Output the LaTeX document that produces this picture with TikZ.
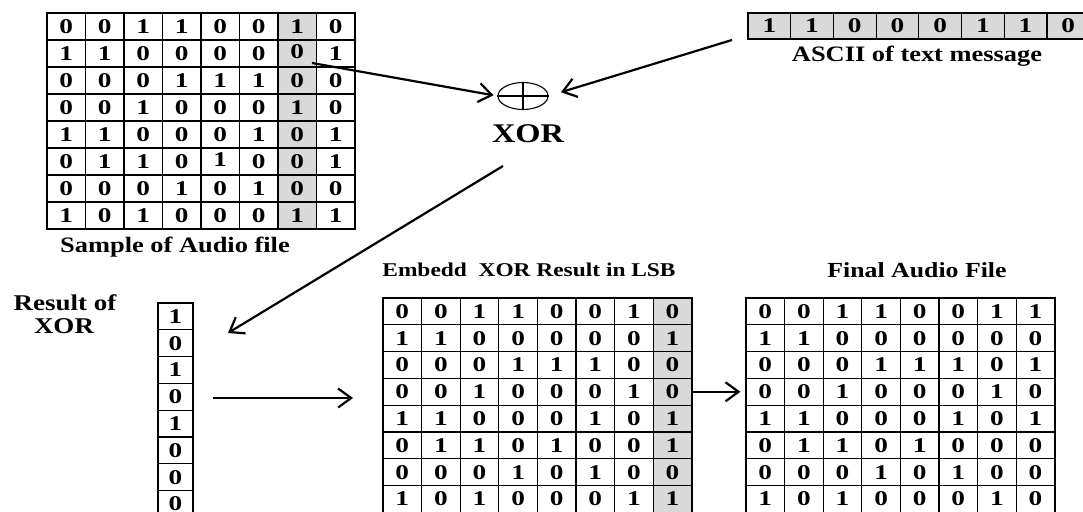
\documentclass[tikz,border=0pt]{standalone}
\usepackage{fontspec}
\newfontfamily\digf{Liberation Serif}[FakeStretch=1.3]
\newfontfamily\labf{Liberation Serif}[FakeStretch=1.2]
\usetikzlibrary{arrows.meta,shapes.geometric}
\definecolor{lsbgray}{RGB}{217,217,217}
\tikzset{
  cell/.style n args={2}{draw=black, line width=1.2pt, minimum width=#1, minimum height=#2,
    inner sep=0pt, font=\digf\bfseries\fontsize{21}{21}\selectfont},
  border/.style={draw=black, line width=1.8pt},
  lbl/.style={inner sep=0pt, anchor=base},
  conn/.style={line width=2.2pt, -{Straight Barb[length=13pt,width=19pt]}},
  xorsym/.style={ellipse, draw=black, line width=1.1pt, minimum width=50pt, minimum height=27pt, inner sep=0pt}
}
\begin{document}
\begin{tikzpicture}[x=1pt,y=-1pt]
\useasboundingbox (0,0) rectangle (1083,511);

% ---------- Sample of audio file ----------
\fill[lsbgray] ({47+6*38.5},13) rectangle ({47+7*38.5},229);
\foreach \row [count=\r] in {{0,0,1,1,0,0,1,0},{1,1,0,0,0,0,0,1},{0,0,0,1,1,1,0,0},{0,0,1,0,0,0,1,0},
                             {1,1,0,0,0,1,0,1},{0,1,1,0,1,0,0,1},{0,0,0,1,0,1,0,0},{1,0,1,0,0,0,1,1}}{
  \foreach \v [count=\c] in \row {
    \pgfmathsetmacro\sh{(((\r==2)&&(\c==7))||((\r==6)&&(\c==5))) ? 4 : 0}
    \node[cell={38.5pt}{27pt}] (s-\r-\c) at ({47+(\c-0.5)*38.5},{13+(\r-0.5)*27}) {\raisebox{\sh pt}{\v}};
  }
}
\draw[border] (47,13) rectangle (355,229);
\node[lbl, font=\labf\bfseries\fontsize{22}{22}\selectfont] (sample) at (175,252) {Sample of Audio file};

% ---------- ASCII of text message ----------
\foreach \v [count=\c] in {1,1,0,0,0,1,1,0}{
  \node[cell={42.7pt}{26pt}, fill=lsbgray] (a-\c) at ({748+(\c-0.5)*42.7},26) {\v};
}
\draw[border] (748,13) rectangle (1090,39);
\node[lbl, font=\labf\bfseries\fontsize{22}{22}\selectfont] (ascii) at (917,61) {ASCII of text message};

% ---------- XOR ----------
\node[xorsym] (xor) at (523,96) {};
\draw[line width=1.1pt] (xor.north) -- (xor.south) (xor.west) -- (xor.east);
\node[lbl, font=\labf\bfseries\fontsize{27}{27}\selectfont] (xorlbl) at (528,142) {XOR};

% ---------- Result of XOR ----------
\node[lbl, font=\labf\bfseries\fontsize{22.5}{22.5}\selectfont] (res1) at (65,310) {Result of};
\node[lbl, font=\labf\bfseries\fontsize{22.5}{22.5}\selectfont] (res2) at (64,333) {XOR};
\foreach \v [count=\r] in {1,0,1,0,1,0,0,0}{
  \node[cell={35pt}{26.8pt}] (r-\r) at (175.5,{303+(\r-0.5)*26.8}) {\v};
}
\draw[border] (158,303) rectangle (193,520);

% ---------- Embed XOR result in LSB ----------
\node[lbl, font=\labf\bfseries\fontsize{19.5}{19.5}\selectfont] (emblbl) at (529,276) {Embedd\ \ XOR Result in LSB};
\fill[lsbgray] ({383+7*38.6},298) rectangle ({383+8*38.6},520);
\foreach \row [count=\r] in {{0,0,1,1,0,0,1,0},{1,1,0,0,0,0,0,1},{0,0,0,1,1,1,0,0},{0,0,1,0,0,0,1,0},
                             {1,1,0,0,0,1,0,1},{0,1,1,0,1,0,0,1},{0,0,0,1,0,1,0,0},{1,0,1,0,0,0,1,1}}{
  \foreach \v [count=\c] in \row {
    \node[cell={38.6pt}{26.8pt}] (e-\r-\c) at ({383+(\c-0.5)*38.6},{298+(\r-0.5)*26.8}) {\v};
  }
}
\draw[border] (383,298) rectangle ({383+8*38.6},520);

% ---------- Final audio file ----------
\node[lbl, font=\labf\bfseries\fontsize{21.5}{21.5}\selectfont] (finlbl) at (917,277) {Final Audio File};
\foreach \row [count=\r] in {{0,0,1,1,0,0,1,1},{1,1,0,0,0,0,0,0},{0,0,0,1,1,1,0,1},{0,0,1,0,0,0,1,0},
                             {1,1,0,0,0,1,0,1},{0,1,1,0,1,0,0,0},{0,0,0,1,0,1,0,0},{1,0,1,0,0,0,1,0}}{
  \foreach \v [count=\c] in \row {
    \node[cell={38.6pt}{26.8pt}] (f-\r-\c) at ({746+(\c-0.5)*38.6},{298+(\r-0.5)*26.8}) {\v};
  }
}
\draw[border] (746,298) rectangle ({746+8*38.6},520);

% ---------- connectors ----------
\coordinate (p1) at (312,63);
\coordinate (q1) at (732,40);
\coordinate (d1) at (503,166);
\coordinate (d2) at (228,333);
\coordinate (h1) at (213,398);
\coordinate (h2) at (353,398);
\draw[conn, shorten >=4pt] (p1) -- (xor.west);
\draw[conn, shorten >=13pt] (q1) -- (xor.east);
\draw[conn] (d1) -- (d2);
\draw[conn] (h1) -- (h2);
\draw[conn, shorten >=5pt] (e-4-8.east) -- (f-4-1.west);
\end{tikzpicture}
\end{document}
